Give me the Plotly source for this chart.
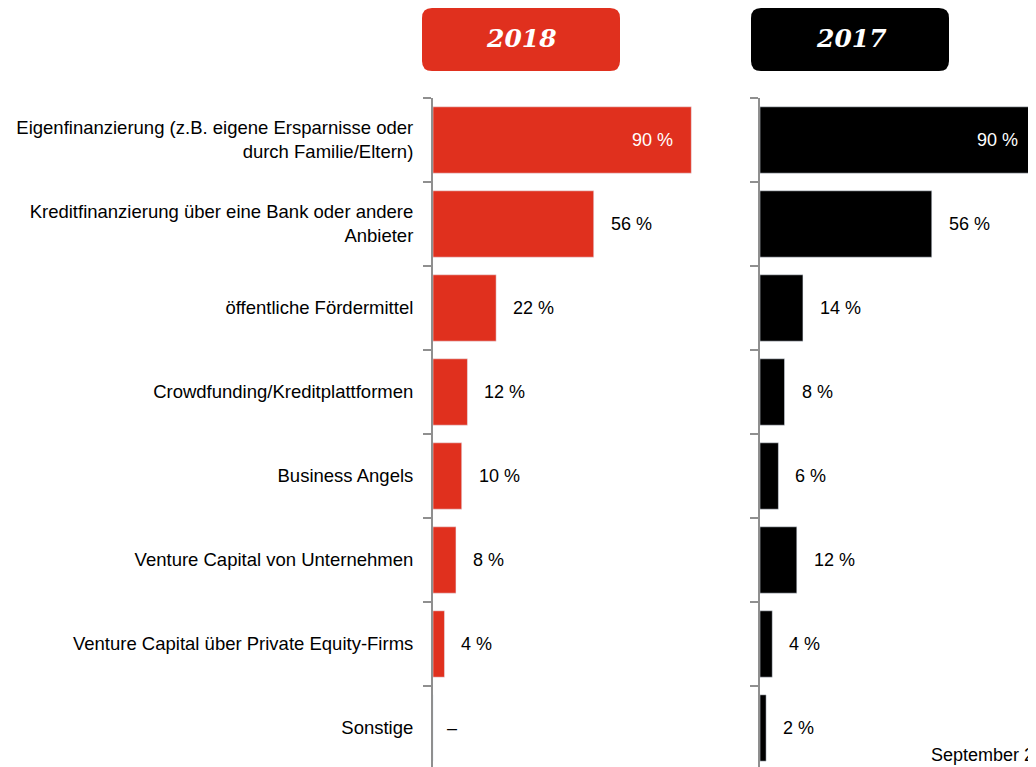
import plotly.graph_objects as go

W, H = 1036, 767
OFF = 8  # page body margin in the browser

categories = [
    "Eigenfinanzierung (z.B. eigene Ersparnisse oder<br>durch Familie/Eltern)",
    "Kreditfinanzierung über eine Bank oder andere<br>Anbieter",
    "öffentliche Fördermittel",
    "Crowdfunding/Kreditplattformen",
    "Business Angels",
    "Venture Capital von Unternehmen",
    "Venture Capital über Private Equity-Firms",
    "Sonstige",
]
values_2018 = [90, 56, 22, 12, 10, 8, 4, None]
values_2017 = [90, 56, 14, 8, 6, 12, 4, 2]

RED = "#e0301e"
BLACK = "#000000"
AXIS_GREY = "#8f8f8f"
FONT = "Liberation Sans, Arial, sans-serif"
LABEL_SIZE = 18.5
VALUE_SIZE = 18


def px(x):
    return (x - OFF) / W


def py(y):
    return 1 - (y - OFF) / H


def rounded_box(x0, y0, x1, y1, r):
    # pixel coords -> paper path with rounded corners
    X0, X1, Y0, Y1 = px(x0), px(x1), py(y0), py(y1)
    rx, ry = r / W, r / H
    return (
        f"M{X0 + rx},{Y0} L{X1 - rx},{Y0} Q{X1},{Y0} {X1},{Y0 - ry} "
        f"L{X1},{Y1 + ry} Q{X1},{Y1} {X1 - rx},{Y1} "
        f"L{X0 + rx},{Y1} Q{X0},{Y1} {X0},{Y1 + ry} "
        f"L{X0},{Y0 - ry} Q{X0},{Y0} {X0 + rx},{Y0} Z"
    )


def value_label(cat, val, xref, yref):
    if val is None:
        return dict(x=0, y=cat, xref=xref, yref=yref, text="–", xanchor="left",
                    xshift=12, showarrow=False, font=dict(size=VALUE_SIZE, color="#000"))
    if val >= 80:
        return dict(x=val, y=cat, xref=xref, yref=yref, text=f"{val} %", xanchor="right",
                    xshift=-16, showarrow=False, font=dict(size=VALUE_SIZE, color="#fff"))
    return dict(x=val, y=cat, xref=xref, yref=yref, text=f"{val} %", xanchor="left",
                xshift=15, showarrow=False, font=dict(size=VALUE_SIZE, color="#000"))


fig = go.Figure()
fig.add_trace(
    go.Bar(
        y=categories,
        x=[v if v is not None else 0 for v in values_2018],
        orientation="h",
        marker_color=RED,
        xaxis="x",
        yaxis="y",
        hoverinfo="skip",
    )
)
fig.add_trace(
    go.Bar(
        y=categories,
        x=values_2017,
        orientation="h",
        marker_color=BLACK,
        xaxis="x2",
        yaxis="y2",
        hoverinfo="skip",
    )
)

annotations = [value_label(c, v, "x", "y") for c, v in zip(categories, values_2018)]
annotations += [value_label(c, v, "x2", "y2") for c, v in zip(categories, values_2017)]

annotations += [
    dict(x=px(521), y=py(39), xref="paper", yref="paper", text="<b><i>2018</i></b>",
         xanchor="center", yanchor="middle", showarrow=False,
         font=dict(family="DejaVu Serif, serif", size=25, color="#fff")),
    dict(x=px(851), y=py(39), xref="paper", yref="paper", text="<b><i>2017</i></b>",
         xanchor="center", yanchor="middle", showarrow=False,
         font=dict(family="DejaVu Serif, serif", size=25, color="#fff")),
    dict(x=px(929), y=py(755), xref="paper", yref="paper", text="September 2018",
         xanchor="left", yanchor="middle", showarrow=False, font=dict(size=18, color="#000")),
]

shapes = [
    dict(type="path", xref="paper", yref="paper", path=rounded_box(422, 8, 620, 71, 10),
         fillcolor=RED, line=dict(width=0)),
    dict(type="path", xref="paper", yref="paper", path=rounded_box(751, 8, 949, 71, 10),
         fillcolor=BLACK, line=dict(width=0)),
]

yaxis_common = dict(
    type="category",
    range=[7.5 + (H + OFF - 770) / 84, -0.5],
    domain=[0, py(98)],
    showline=True,
    linecolor=AXIS_GREY,
    linewidth=2,
    ticks="outside",
    tickson="boundaries",
    ticklen=8,
    tickwidth=2,
    tickcolor=AXIS_GREY,
    showgrid=False,
    zeroline=False,
    fixedrange=True,
)

fig.update_layout(
    width=W,
    height=H,
    margin=dict(l=0, r=0, t=0, b=0),
    paper_bgcolor="#fff",
    plot_bgcolor="#fff",
    showlegend=False,
    bargap=0.21,
    font=dict(family=FONT, size=LABEL_SIZE, color="#000"),
    xaxis=dict(domain=[px(433), px(720)], range=[0, 100], visible=False, anchor="y"),
    xaxis2=dict(domain=[px(760), 1], range=[0, 92.6], visible=False, anchor="y2"),
    yaxis=dict(**yaxis_common, anchor="x", ticklabelstandoff=14,
               tickfont=dict(family=FONT, size=LABEL_SIZE, color="#000")),
    yaxis2=dict(**yaxis_common, anchor="x2", showticklabels=False),
    annotations=annotations,
    shapes=shapes,
)

fig.write_html("out.html")
